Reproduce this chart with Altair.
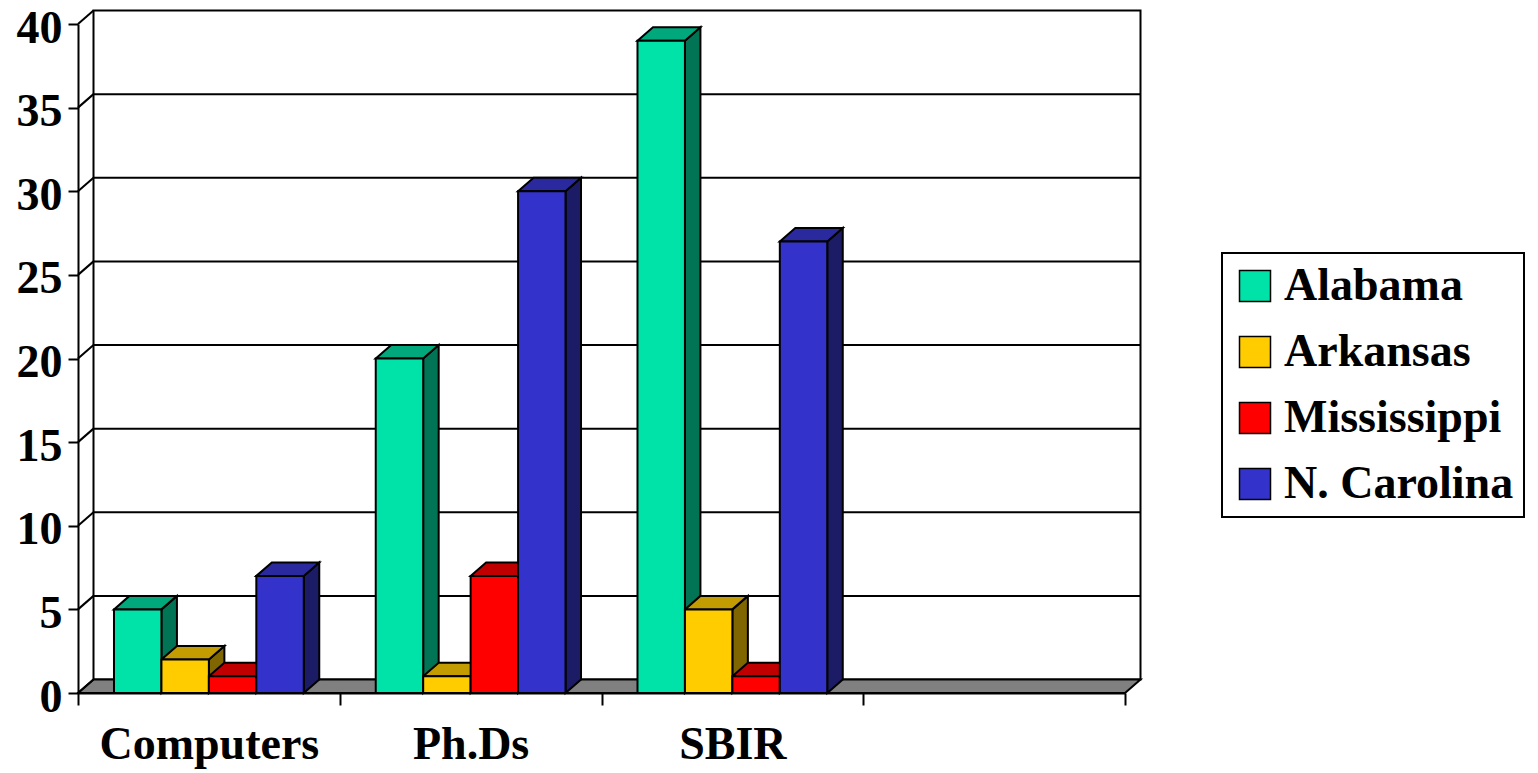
import json
import altair as alt
import pandas as pd

# ---------------- data ----------------
categories = ["Computers", "Ph.Ds", "SBIR", ""]
states = ["Alabama", "Arkansas", "Mississippi", "N. Carolina"]
alabama = [5, 20, 39]
arkansas = [2, 1, 5]
mississippi = [1, 7, 1]
n_carolina = [7, 30, 27]
y_ticks = [0, 5, 10, 15, 20, 25, 30, 35, 40]

series = [alabama, arkansas, mississippi, n_carolina]

# ---------------- styles ----------------
front_colors = ["#00E3A8", "#FFCC00", "#FF0000", "#3333CC"]
top_colors = ["#00A87C", "#C29C00", "#C00000", "#2A2A9E"]
side_colors = ["#007454", "#7F6600", "#800000", "#1C1C66"]
FONT = "Liberation Serif"

W, H = 1047, 669
X_MAX = len(categories)
Y_MAX = y_ticks[-1]
DEPTH_PX_X, DEPTH_PX_Y = 15.5, 13.5
dxu = DEPTH_PX_X / (W / X_MAX)
dyu = DEPTH_PX_Y / (H / Y_MAX)
GROUP = 0.725
bw = GROUP / len(states)
off = (1 - GROUP) / 2

# ---------------- derived tables ----------------
front, side, top = [], [], []
bid = 0
for ci in range(3):
    for si, st in enumerate(states):
        v = series[si][ci]
        left = ci + off + si * bw
        right = left + bw
        front.append(dict(x=left, x2=right, y=0, y2=v, state=st))
        side.append(dict(id=bid, x=right, y=v, y2=0, c=side_colors[si]))
        side.append(dict(id=bid, x=right + dxu, y=v + dyu, y2=dyu, c=side_colors[si]))
        top.append(dict(id=bid, y=v, x=left, x2=right, c=top_colors[si]))
        top.append(dict(id=bid, y=v + dyu, x=left + dxu, x2=right + dxu, c=top_colors[si]))
        bid += 1

front_df = pd.DataFrame(front)
side_df = pd.DataFrame(side)
top_df = pd.DataFrame(top)
wall_df = pd.DataFrame([dict(x=dxu, x2=X_MAX + dxu, y=dyu, y2=Y_MAX + dyu)])
floor_df = pd.DataFrame([dict(y=0, x=0, x2=X_MAX), dict(y=dyu, x=dxu, x2=X_MAX + dxu)])
grid_df = pd.DataFrame([dict(x=dxu, x2=X_MAX + dxu, y=t + dyu) for t in y_ticks[1:-1]])
diag_df = pd.DataFrame([dict(x=0, x2=dxu, y=t, y2=t + dyu) for t in y_ticks])

xs = alt.Scale(domain=[0, X_MAX], nice=False, zero=False)
ys = alt.Scale(domain=[0, Y_MAX], nice=False, zero=False)

cats_js = json.dumps(categories)
x_axis = alt.Axis(
    values=[i * 0.5 for i in range(2 * X_MAX + 1)],
    labelExpr=f"(datum.value % 1 != 0) ? {cats_js}[floor(datum.value)] : ''",
    tickOpacity={"condition": {"test": "datum.value % 1 != 0", "value": 0}, "value": 1},
    tickSize=12, labelPadding=17, labelOverlap=False, labelFlush=False, labelBound=False,
    labelLimit=600, title=None, grid=False,
)
y_axis = alt.Axis(values=y_ticks, tickSize=10, labelPadding=6, labelOffset=4, title=None,
                  grid=False, labelOverlap=False, labelFlush=False)


def X(field="x:Q", **kw):
    return alt.X(field, scale=xs, axis=x_axis, **kw)


def Y(field="y:Q", **kw):
    return alt.Y(field, scale=ys, axis=y_axis, **kw)


STROKE = dict(stroke="black", strokeWidth=2)

wall = alt.Chart(wall_df).mark_rect(fill="white", **STROKE).encode(
    x=X(), x2="x2:Q", y=Y(), y2="y2:Q",
)
floor = alt.Chart(floor_df).mark_area(orient="horizontal", fill="#808080", **STROKE).encode(
    y=Y(stack=None), x=X(stack=None), x2="x2:Q",
)
grid = alt.Chart(grid_df).mark_rule(color="black", strokeWidth=2).encode(
    x=X(), x2="x2:Q", y=Y(),
)
diag = alt.Chart(diag_df).mark_rule(color="black", strokeWidth=2).encode(
    x=X(), x2="x2:Q", y=Y(), y2="y2:Q",
)
sides = alt.Chart(side_df).mark_area(**STROKE).encode(
    x=X(stack=None), y=Y(stack=None), y2="y2:Q",
    detail="id:N",
    color=alt.Color("c:N", scale=None),
)
tops = alt.Chart(top_df).mark_area(orient="horizontal", **STROKE).encode(
    y=Y(stack=None), x=X(stack=None), x2="x2:Q",
    detail="id:N",
    color=alt.Color("c:N", scale=None),
)
fronts = alt.Chart(front_df).mark_rect(**STROKE).encode(
    x=X(), x2="x2:Q", y=Y(), y2="y2:Q",
    fill=alt.Fill(
        "state:N",
        scale=alt.Scale(domain=states, range=front_colors),
        legend=alt.Legend(
            title=None, orient="none", legendX=1144, legendY=229,
            symbolType="square", symbolSize=961, symbolStrokeColor="black",
            symbolStrokeWidth=1.5, labelOffset=6, rowPadding=20, padding=10,
            strokeColor="black", fillColor="white",
        ),
    ),
)

chart = (
    alt.layer(wall, floor, grid, diag, sides, tops, fronts)
    .properties(
        width=W, height=H,
        autosize=alt.AutoSizeParams(type="none"),
        padding={"left": 70, "top": 16, "right": 405, "bottom": 76},
        background="white",
    )
    .configure_view(stroke=None)
    .configure_axis(
        labelFont=FONT, labelFontSize=46, labelFontWeight="bold", labelColor="black",
        domainColor="black", domainWidth=2, tickColor="black", tickWidth=2,
    )
    .configure_legend(
        labelFont=FONT, labelFontSize=46, labelFontWeight="bold", labelColor="black",
        strokeWidth=2, labelLimit=400,
    )
)

chart.save("out.html", embed_options={"renderer": "svg", "actions": False})
